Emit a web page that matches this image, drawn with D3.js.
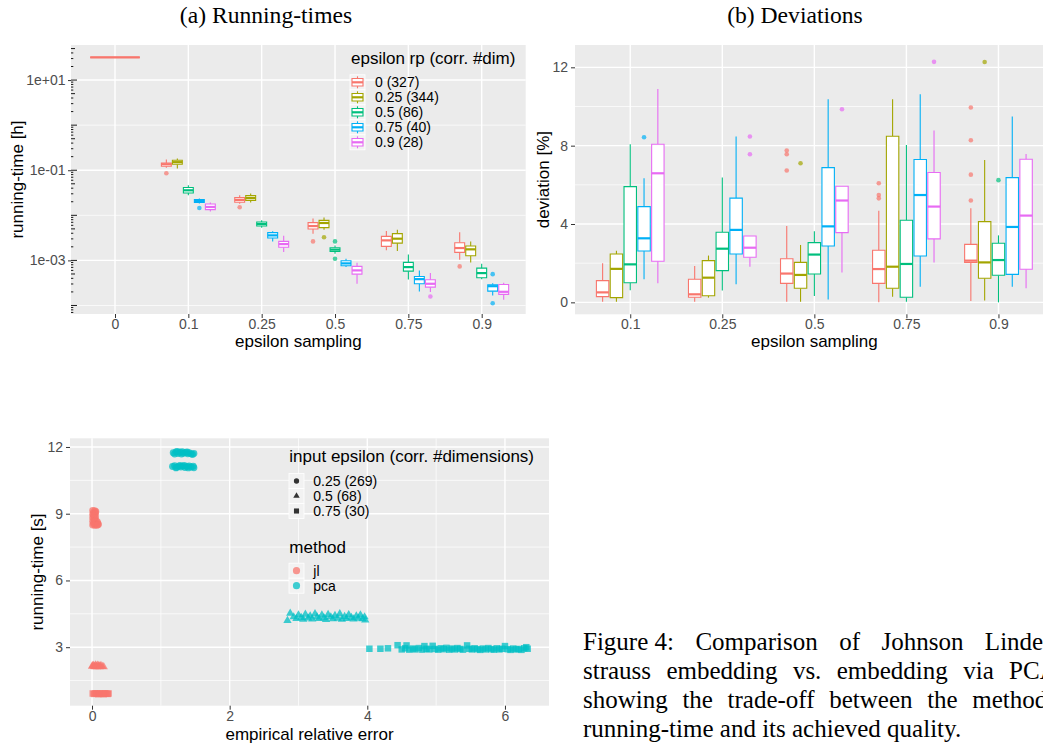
<!DOCTYPE html>
<html>
<head>
<meta charset="utf-8">
<script src="https://cdn.jsdelivr.net/npm/d3@7"></script>
<style>
  body { margin: 0; background: #ffffff; }
</style>
</head>
<body>
<script>
// ##################################
// Data
// ##################################

// epsilon rp groups
const rpLabels = ["0 (327)", "0.25 (344)", "0.5 (86)", "0.75 (40)", "0.9 (28)"]
const rpColors = ["#F8766D", "#A3A500", "#00BF7D", "#00B0F6", "#E76BF3"]

// (a) running-time [h]: one row per epsilon rp, [low, q1, median, q3, high]
const timeCats = ["0", "0.1", "0.25", "0.5", "0.75", "0.9"]
const time0 = [[31.9, 31.9, 31.9, 31.9, 31.9]]
const time01 = [
    [0.114, 0.123, 0.136, 0.145, 0.173],
    [0.109, 0.136, 0.151, 0.167, 0.182],
    [0.0278, 0.0313, 0.0359, 0.0413, 0.0464],
    [0.0182, 0.0192, 0.0208, 0.0223, 0.0235],
    [0.0121, 0.0134, 0.0153, 0.0178, 0.0192]
]
const time025 = [
    [0.0180, 0.0195, 0.0219, 0.0247, 0.0278],
    [0.0192, 0.0215, 0.0242, 0.0274, 0.0303],
    [0.00533, 0.00578, 0.00641, 0.00710, 0.00774],
    [0.00264, 0.00313, 0.00359, 0.00413, 0.00441],
    [0.00153, 0.00195, 0.00230, 0.00264, 0.00354]
]
const time05 = [
    [0.00392, 0.00496, 0.00578, 0.00689, 0.00845],
    [0.00481, 0.00533, 0.00675, 0.00774, 0.00889],
    [0.00141, 0.00158, 0.00173, 0.00191, 0.00215],
    [0.000710, 0.000762, 0.000858, 0.000985, 0.00109],
    [0.000303, 0.000496, 0.000600, 0.000736, 0.000889]
]
const time075 = [
    [0.00167, 0.00205, 0.00278, 0.00341, 0.00448],
    [0.00161, 0.00242, 0.00303, 0.00392, 0.00481],
    [0.000378, 0.000578, 0.000710, 0.000903, 0.00136],
    [0.000205, 0.000303, 0.000384, 0.000441, 0.000600],
    [0.000198, 0.000255, 0.000303, 0.000372, 0.000523]
]
const time09 = [
    [0.00104, 0.00151, 0.00188, 0.00247, 0.00419],
    [0.000903, 0.00127, 0.00176, 0.00208, 0.00264],
    [0.000384, 0.000413, 0.000523, 0.000675, 0.000845],
    [0.000167, 0.000208, 0.000268, 0.000288, 0.000313],
    [0.000134, 0.000176, 0.000201, 0.000293, 0.000319]
]
// [epsilon sampling, epsilon rp index, value]
const timeOutliers = [
    ["0.1", 0, 0.0858], ["0.1", 3, 0.0145], ["0.25", 0, 0.0151],
    ["0.5", 0, 0.00264], ["0.5", 1, 0.00325], ["0.5", 2, 0.00264], ["0.5", 2, 0.00109],
    ["0.75", 4, 0.000158], ["0.9", 0, 0.000736], ["0.9", 3, 0.000496], ["0.9", 3, 0.000112]
]
const timeTicks = [10, 0.1, 0.001]
const timeTickLabels = ["1e+01", "1e-01", "1e-03"]

// (b) deviation [%]
const devCats = ["0.1", "0.25", "0.5", "0.75", "0.9"]
const dev01 = [
    [0.03, 0.29, 0.51, 1.11, 2.0],
    [0.03, 0.24, 1.71, 2.47, 2.64],
    [0.62, 1.0, 1.94, 5.91, 8.07],
    [1.18, 2.62, 3.27, 4.89, 6.34],
    [0.97, 2.1, 6.59, 8.07, 10.89]
]
const dev025 = [
    [0.03, 0.26, 0.41, 1.18, 1.86],
    [0.24, 0.34, 1.26, 2.13, 2.39],
    [0.6, 1.62, 2.74, 3.58, 6.37],
    [0.92, 2.47, 3.70, 5.32, 8.47],
    [1.82, 2.30, 2.79, 3.39, 3.39]
]
const dev05 = [
    [0.03, 0.97, 1.47, 2.23, 3.9],
    [0.03, 0.72, 1.40, 2.04, 2.93],
    [0.32, 1.45, 2.44, 3.05, 3.63],
    [0.15, 2.88, 3.88, 6.88, 10.37],
    [1.52, 3.56, 5.20, 5.93, 5.93]
]
const dev075 = [
    [0.0, 0.97, 1.70, 2.66, 4.68],
    [0.29, 0.72, 1.82, 8.48, 10.37],
    [0.03, 0.26, 1.96, 4.19, 8.04],
    [0.80, 2.37, 5.48, 7.29, 10.63],
    [2.04, 3.24, 4.89, 6.63, 8.77]
]
const dev09 = [
    [0.07, 2.04, 2.13, 2.96, 4.80],
    [0.09, 1.23, 2.04, 4.12, 7.27],
    [0.0, 1.38, 2.16, 3.02, 3.42],
    [0.80, 1.43, 3.85, 6.37, 9.49],
    [0.72, 1.69, 4.43, 7.31, 7.58]
]
const devOutliers = [
    ["0.1", 3, 8.43], ["0.25", 4, 8.47], ["0.25", 4, 7.56],
    ["0.5", 0, 7.75], ["0.5", 0, 7.56], ["0.5", 0, 6.73], ["0.5", 1, 7.10], ["0.5", 4, 9.86],
    ["0.75", 0, 6.08], ["0.75", 0, 5.48], ["0.75", 0, 5.31], ["0.75", 4, 12.28],
    ["0.9", 0, 5.2], ["0.9", 0, 6.52], ["0.9", 0, 8.28], ["0.9", 0, 9.95],
    ["0.9", 1, 12.27], ["0.9", 2, 6.24]
]
const devTicks = [0, 4, 8, 12]

// (c) [empirical relative error, running-time [s]]
const jlCircles = [[0.01,9.14],[0.04,9.13],[0.055,9.10],[0.02,9.06],[0.05,9.03],[0.01,8.98],[0.04,8.96],
    [0.02,8.90],[0.05,8.88],[0.01,8.82],[0.04,8.80],[0.03,8.74],[0.06,8.70],[0.01,8.66],[0.04,8.64],
    [0.08,8.62],[0.02,8.56],[0.05,8.55],[0.09,8.54],[0.01,8.49],[0.04,8.48],[0.07,8.48],[0.09,8.50]]
const jlTriangles = [[0.00,2.14],[0.02,2.18],[0.03,2.13],[0.05,2.20],[0.06,2.15],[0.08,2.19],[0.09,2.13],
    [0.10,2.17],[0.12,2.14],[0.13,2.18],[0.15,2.13],[0.17,2.12],[0.04,2.12],[0.07,2.12],[0.11,2.12],[0.01,2.16]]
const jlSquares = [[0.01,0.92],[0.03,0.90],[0.05,0.93],[0.07,0.91],[0.09,0.89],[0.11,0.93],[0.13,0.90],
    [0.15,0.92],[0.17,0.89],[0.19,0.93],[0.21,0.91],[0.23,0.90],[0.24,0.92]]
const pcaCircles = [[1.18,11.74],[1.22,11.78],[1.25,11.71],[1.28,11.76],[1.31,11.79],[1.33,11.72],[1.36,11.75],
    [1.39,11.69],[1.41,11.74],[1.44,11.70],[1.46,11.66],[1.48,11.71],[1.20,11.68],[1.30,11.68],[1.38,11.78],
    [1.24,11.80],[1.17,11.12],[1.20,11.16],[1.23,11.09],[1.26,11.13],[1.29,11.10],[1.32,11.14],[1.35,11.08],
    [1.38,11.12],[1.41,11.15],[1.44,11.10],[1.47,11.13],[1.48,11.07],[1.22,11.06],[1.34,11.17],[1.40,11.06],[1.28,11.17]]
const pcaTriangles = [[2.84,4.20],[2.88,4.52],[2.93,4.36],[2.97,4.28],[3.00,4.45],[3.04,4.33],[3.07,4.25],
    [3.10,4.48],[3.14,4.31],[3.17,4.40],[3.20,4.26],[3.24,4.50],[3.27,4.35],[3.30,4.28],[3.34,4.44],[3.37,4.32],
    [3.40,4.24],[3.43,4.47],[3.47,4.36],[3.50,4.27],[3.53,4.42],[3.57,4.30],[3.60,4.50],[3.63,4.25],[3.67,4.38],
    [3.70,4.29],[3.73,4.46],[3.77,4.33],[3.80,4.26],[3.84,4.40],[3.87,4.30],[3.90,4.45],[3.93,4.27],[3.96,4.36],[3.97,4.22]]
const pcaSquares = [[4.03,2.93],[4.19,2.93],[4.30,2.95],[4.44,3.09],[4.50,2.90],[4.55,2.95],[4.57,3.08],
    [4.61,2.89],[4.66,2.94],[4.70,2.90],[4.75,2.96],[4.80,2.89],[4.83,3.05],[4.86,2.93],[4.90,2.90],[4.95,3.06],
    [4.98,2.92],[5.03,2.89],[5.07,2.95],[5.11,2.91],[5.15,2.97],[5.19,2.89],[5.23,2.94],[5.27,2.90],[5.31,2.96],
    [5.35,2.92],[5.39,2.89],[5.45,3.08],[5.48,2.93],[5.52,2.90],[5.56,2.95],[5.60,2.91],[5.64,2.88],[5.68,2.94],
    [5.72,2.90],[5.76,2.96],[5.80,2.91],[5.84,2.89],[5.88,2.95],[5.92,2.90],[5.96,2.93],[6.00,3.05],[6.04,2.91],
    [6.08,2.88],[6.12,2.94],[6.16,2.90],[6.20,2.92],[6.24,2.88],[6.28,2.95],[6.31,3.00],[6.33,2.93]]
const epsLabels = ["0.25 (269)", "0.5 (68)", "0.75 (30)"]
const methodLabels = ["jl", "pca"]
const methodColors = ["#F8766D", "#00BFC4"]
const errTicks = [0, 2, 4, 6]
const secTicks = [3, 6, 9, 12]

const captionLines = [
    ["Figure 4:", "Comparison", "of", "Johnson", "Linden-"],
    ["strauss", "embedding", "vs.", "embedding", "via", "PCA,"],
    ["showing", "the", "trade-off", "between", "the", "method\u2019s"],
    ["running-time", "and", "its", "achieved", "quality."]
]

// ##################################
// Setup
// ##################################
const w = 1043, h = 746
const sans = "'Liberation Sans', Arial, Helvetica, sans-serif"
const serif = "'Liberation Serif', 'Times New Roman', Times, serif"

let svg = d3.select("body")
            .append("svg")
            .attr("width", w)
            .attr("height", h)
            .style("font-family", sans)

function addPanel(x0, x1, y0, y1) {
    svg.append("rect")
        .attr("x", x0).attr("y", y0)
        .attr("width", x1 - x0).attr("height", y1 - y0)
        .attr("fill", "#EBEBEB")
}

function hLines(vals, scale, x0, x1, sw) {
    svg.append("g")
        .selectAll("line")
        .data(vals)
        .enter()
        .append("line")
            .attr("x1", x0).attr("x2", x1)
            .attr("y1", d => scale(d)).attr("y2", d => scale(d))
            .attr("stroke", "white")
            .attr("stroke-width", sw)
}

function vLines(vals, scale, y0, y1, sw) {
    svg.append("g")
        .selectAll("line")
        .data(vals)
        .enter()
        .append("line")
            .attr("y1", y0).attr("y2", y1)
            .attr("x1", d => scale(d)).attr("x2", d => scale(d))
            .attr("stroke", "white")
            .attr("stroke-width", sw)
}

function styleAxis(g) {
    g.select(".domain").remove()
    g.selectAll(".tick line").attr("stroke", "#333333").attr("stroke-width", 1)
    g.selectAll(".tick text")
        .attr("fill", "#4D4D4D")
        .attr("font-size", 14)
        .attr("font-family", sans)
}

function axisTitle(x, y, txt, rotate) {
    svg.append("text")
        .attr("text-anchor", "middle")
        .attr("transform", "translate(" + x + "," + y + ")" + (rotate ? " rotate(-90)" : ""))
        .attr("font-size", 17)
        .attr("fill", "black")
        .text(txt)
}

// One box with whiskers, median drawn thicker
function drawBox(cx, bw, s, color, y) {
    const g = svg.append("g")
    g.append("line")
        .attr("x1", cx).attr("x2", cx).attr("y1", y(s[4])).attr("y2", y(s[3]))
        .attr("stroke", color).attr("stroke-width", 1.1)
    g.append("line")
        .attr("x1", cx).attr("x2", cx).attr("y1", y(s[1])).attr("y2", y(s[0]))
        .attr("stroke", color).attr("stroke-width", 1.1)
    g.append("path")
        .attr("d", "M" + (cx - bw/2) + "," + y(s[3]) + "H" + (cx + bw/2) + "V" + y(s[1]) + "H" + (cx - bw/2) + "Z")
        .attr("fill", "white")
        .attr("stroke", color).attr("stroke-width", 1.1)
    g.append("line")
        .attr("x1", cx - bw/2).attr("x2", cx + bw/2).attr("y1", y(s[2])).attr("y2", y(s[2]))
        .attr("stroke", color).attr("stroke-width", 2.2)
}

function drawBoxes(cats, boxes, outliers, x, y) {
    const step = x.step()
    cats.forEach((c, ci) => {
        const rows = boxes[ci]
        const slot = 0.75 * step / rows.length
        rows.forEach((s, k) => {
            const cx = x(c) + (k - (rows.length - 1) / 2) * slot
            drawBox(cx, slot * 0.9, s, rpColors[k], y)
        })
    })
    svg.append("g")
        .selectAll("circle")
        .data(outliers)
        .enter()
        .append("circle")
            .attr("cx", d => x(d[0]) + (d[1] - 2) * 0.15 * step)
            .attr("cy", d => y(d[2]))
            .attr("r", 2.3)
            .attr("fill", d => rpColors[d[1]])
            .attr("fill-opacity", 0.7)
}

// ##################################
// (a) Running-times
// ##################################
const aL = 71, aR = 525.7, aT = 45, aB = 314
const xA = d3.scalePoint().domain(timeCats).range([aL, aR]).padding(0.6)
const yA = d3.scaleLog().domain([Math.pow(10, -4.189), Math.pow(10, 1.778)]).range([aB, aT])

addPanel(aL, aR, aT, aB)
hLines([1, 0.01, 0.0001], yA, aL, aR, 0.7)
hLines(timeTicks, yA, aL, aR, 1.4)
vLines(timeCats, xA, aT, aB, 1.4)

drawBoxes(timeCats, [time0, time01, time025, time05, time075, time09], timeOutliers, xA, yA)

// log ticks on the left edge
let logTicks = []
for (let p = -5; p <= 1; p++) {
    for (let m = 1; m <= 9; m++) {
        const v = m * Math.pow(10, p)
        if (v >= yA.domain()[0] && v <= yA.domain()[1]) logTicks.push([v, m == 1 ? 6 : (m == 5 ? 4 : 2.3)])
    }
}
svg.append("g")
    .selectAll("line")
    .data(logTicks)
    .enter()
    .append("line")
        .attr("x1", aL).attr("x2", d => aL + d[1])
        .attr("y1", d => yA(d[0])).attr("y2", d => yA(d[0]))
        .attr("stroke", "black").attr("stroke-width", 0.9)

svg.append("g")
    .attr("transform", "translate(" + aL + ",0)")
    .call(d3.axisLeft(yA).tickValues(timeTicks).tickFormat((d, i) => timeTickLabels[i]).tickSize(3).tickPadding(2.5))
    .call(styleAxis)
svg.append("g")
    .attr("transform", "translate(0," + aB + ")")
    .call(d3.axisBottom(xA).tickSize(4).tickPadding(1))
    .call(styleAxis)

axisTitle((aL + aR) / 2, 347, "epsilon sampling", false)
axisTitle(23, (aT + aB) / 2, "running-time [h]", true)

// Legend of epsilon rp
svg.append("text")
    .attr("x", 351).attr("y", 64)
    .attr("font-size", 17)
    .text("epsilon rp (corr. #dim)")
rpLabels.forEach((lab, i) => {
    const top = 74.8 + i * 15
    svg.append("rect").attr("x", 350).attr("y", top).attr("width", 15).attr("height", 15)
        .attr("fill", "#F2F2F2").attr("stroke", "white").attr("stroke-width", 0.8)
    drawBox(357.5, 11, [top + 13.5, top + 11.25, top + 7.5, top + 3.75, top + 1.5], rpColors[i], d => d)
    svg.append("text").attr("x", 375).attr("y", top + 12.5).attr("font-size", 14).text(lab)
})

// ##################################
// (b) Deviations
// ##################################
const bL = 575, bR = 1053.7, bT = 45, bB = 314.3
const xB = d3.scalePoint().domain(devCats).range([bL, bR]).padding(0.6)
const yB = d3.scaleLinear().domain([-0.61, 13.14]).range([bB, bT])

addPanel(bL, bR, bT, bB)
hLines([2, 6, 10], yB, bL, bR, 0.7)
hLines(devTicks, yB, bL, bR, 1.4)
vLines(devCats, xB, bT, bB, 1.4)

drawBoxes(devCats, [dev01, dev025, dev05, dev075, dev09], devOutliers, xB, yB)

svg.append("g")
    .attr("transform", "translate(" + bL + ",0)")
    .call(d3.axisLeft(yB).tickValues(devTicks).tickSize(4).tickPadding(3))
    .call(styleAxis)
svg.append("g")
    .attr("transform", "translate(0," + bB + ")")
    .call(d3.axisBottom(xB).tickSize(4).tickPadding(1))
    .call(styleAxis)

axisTitle((bL + bR) / 2, 347, "epsilon sampling", false)
axisTitle(549, (bT + bB) / 2, "deviation [%]", true)

// ##################################
// (c) error vs running-time scatter
// ##################################
const cL = 70, cR = 549, cT = 438.3, cB = 705.7
const xC = d3.scaleLinear().domain([-0.32, 6.64]).range([cL, cR])
const yC = d3.scaleLinear().domain([0.37, 12.39]).range([cB, cT])

addPanel(cL, cR, cT, cB)
hLines([1.5, 4.5, 7.5, 10.5], yC, cL, cR, 0.7)
vLines([1, 3, 5], xC, cT, cB, 0.7)
hLines(secTicks, yC, cL, cR, 1.4)
vLines(errTicks, xC, cT, cB, 1.4)

const shapes = [d3.symbolCircle, d3.symbolTriangle, d3.symbolSquare]
const shapeSizes = [38, 30, 42]
const groups = [
    [jlCircles, 0, 0], [jlTriangles, 1, 0], [jlSquares, 2, 0],
    [pcaCircles, 0, 1], [pcaTriangles, 1, 1], [pcaSquares, 2, 1]
]
groups.forEach(gr => {
    svg.append("g")
        .selectAll("path")
        .data(gr[0])
        .enter()
        .append("path")
            .attr("d", d3.symbol().type(shapes[gr[1]]).size(shapeSizes[gr[1]]))
            .attr("transform", d => "translate(" + xC(d[0]) + "," + yC(d[1]) + ")")
            .attr("fill", methodColors[gr[2]])
            .attr("fill-opacity", 0.75)
})

svg.append("g")
    .attr("transform", "translate(" + cL + ",0)")
    .call(d3.axisLeft(yC).tickValues(secTicks).tickFormat(d3.format("d")).tickSize(4).tickPadding(3))
    .call(styleAxis)
svg.append("g")
    .attr("transform", "translate(0," + cB + ")")
    .call(d3.axisBottom(xC).tickValues(errTicks).tickFormat(d3.format("d")).tickSize(4).tickPadding(1))
    .call(styleAxis)

axisTitle((cL + cR) / 2, 739.5, "empirical relative error", false)
axisTitle(43, (cT + cB) / 2, "running-time [s]", true)

// Legends of shape and colour
svg.append("text").attr("x", 289.3).attr("y", 461.7).attr("font-size", 17)
    .text("input epsilon (corr. #dimensions)")
epsLabels.forEach((lab, i) => {
    const top = 473.5 + i * 15
    svg.append("rect").attr("x", 289).attr("y", top).attr("width", 15).attr("height", 15)
        .attr("fill", "#F2F2F2").attr("stroke", "white").attr("stroke-width", 0.8)
    svg.append("path")
        .attr("d", d3.symbol().type(shapes[i]).size([22, 18, 26][i]))
        .attr("transform", "translate(296.5," + (top + 7.5) + ")")
        .attr("fill", "#333333")
    svg.append("text").attr("x", 313.3).attr("y", top + 12.5).attr("font-size", 14).text(lab)
})
svg.append("text").attr("x", 289.3).attr("y", 552.7).attr("font-size", 17).text("method")
methodLabels.forEach((lab, i) => {
    const top = 563.2 + i * 15
    svg.append("rect").attr("x", 289).attr("y", top).attr("width", 15).attr("height", 15)
        .attr("fill", "#F2F2F2").attr("stroke", "white").attr("stroke-width", 0.8)
    svg.append("circle").attr("cx", 296.5).attr("cy", top + 7.5).attr("r", 3.6)
        .attr("fill", methodColors[i]).attr("fill-opacity", 0.75)
    svg.append("text").attr("x", 313.3).attr("y", top + 12.5).attr("font-size", 14).text(lab)
})

// ##################################
// Sub-titles and caption
// ##################################
svg.append("text").attr("x", 266).attr("y", 22.5).attr("text-anchor", "middle")
    .attr("font-family", serif).attr("font-size", 23.6).text("(a) Running-times")
svg.append("text").attr("x", 795).attr("y", 22.5).attr("text-anchor", "middle")
    .attr("font-family", serif).attr("font-size", 23.6).text("(b) Deviations")

// justified caption column, right edge lies beyond the picture
const capL = 583, capR = 1064, capSize = 25
const measure = svg.append("text").attr("font-family", serif).attr("font-size", capSize)
captionLines.forEach((words, li) => {
    const widths = words.map(wd => { measure.text(wd); return measure.node().getComputedTextLength() })
    const total = d3.sum(widths)
    const gap = li < 3 ? (capR - capL - total) / (words.length - 1) : capSize * 0.25
    let x = capL
    words.forEach((wd, k) => {
        svg.append("text")
            .attr("x", x).attr("y", 650 + li * 29)
            .attr("font-family", serif).attr("font-size", capSize)
            .attr("fill", "black")
            .text(wd)
        x += widths[k] + gap
    })
})
measure.remove()
</script>
</body>
</html>
